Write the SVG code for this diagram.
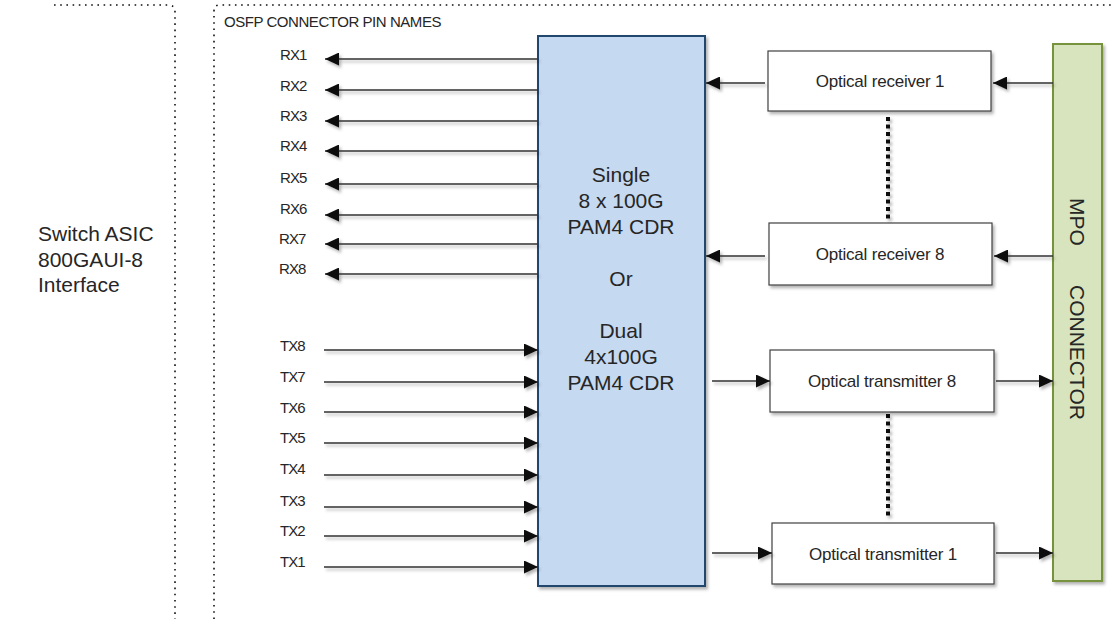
<svg xmlns="http://www.w3.org/2000/svg" width="1115" height="619" viewBox="0 0 1115 619">
<defs>
  <filter id="sh" x="-20%" y="-20%" width="140%" height="160%">
    <feDropShadow dx="2" dy="2.5" stdDeviation="1.5" flood-color="#000" flood-opacity="0.3"/>
  </filter>
  <marker id="ah" markerUnits="userSpaceOnUse" markerWidth="14" markerHeight="13" refX="14" refY="6.5" orient="auto">
    <path d="M0,0 L14,6.5 L0,13 z" fill="#111"/>
  </marker>
  <style>
    .frame { fill: none; stroke: #111; stroke-width: 1.6; stroke-dasharray: 1.6 4.6; }
    .dots { fill: none; stroke: #111; stroke-width: 4; stroke-dasharray: 4 3.5; }
    .wire { fill: none; stroke: #333; stroke-width: 1.3; marker-end: url(#ah); }
    .box { fill: #fff; stroke: #404040; stroke-width: 1.2; }
    .lbl { font-family: "Liberation Sans", Arial, sans-serif; fill: #262626; }
    .pin { font-size: 15px; letter-spacing: -0.9px; }
    .big { font-size: 21px; }
    .mid { font-size: 17px; letter-spacing: -0.2px; }
  </style>
</defs>

<g id="frames">
  <path class="frame" d="M54,5 H168 Q175,5 175,12 V619"/>
  <path class="frame" d="M214,619 V11 Q214,5 220,5 H1115"/>
  <text class="lbl" x="224" y="27" font-size="15" letter-spacing="-0.45">OSFP CONNECTOR PIN NAMES</text>
</g>

<g id="switch-asic">
  <text class="lbl big" x="38" y="241">Switch ASIC</text>
  <text class="lbl big" x="38" y="267">800GAUI-8</text>
  <text class="lbl big" x="38" y="292">Interface</text>
</g>

<g id="pin-labels" class="lbl pin">
  <text x="280" y="60">RX1</text>
  <text x="280" y="91">RX2</text>
  <text x="280" y="121">RX3</text>
  <text x="280" y="151">RX4</text>
  <text x="280" y="183">RX5</text>
  <text x="280" y="214">RX6</text>
  <text x="279" y="244">RX7</text>
  <text x="279" y="274">RX8</text>
  <text x="280" y="351">TX8</text>
  <text x="280" y="382">TX7</text>
  <text x="280" y="413">TX6</text>
  <text x="280" y="443">TX5</text>
  <text x="280" y="474">TX4</text>
  <text x="280" y="506">TX3</text>
  <text x="280" y="536">TX2</text>
  <text x="280" y="567">TX1</text>
</g>

<g id="cdr">
  <rect x="538" y="36" width="167" height="550" fill="#c5d9f0" stroke="#23476e" stroke-width="2" filter="url(#sh)"/>
  <g class="lbl big" text-anchor="middle">
    <text x="621" y="182">Single</text>
    <text x="621" y="208">8 x 100G</text>
    <text x="621" y="234">PAM4 CDR</text>
    <text x="621" y="286">Or</text>
    <text x="621" y="338">Dual</text>
    <text x="621" y="364">4x100G</text>
    <text x="621" y="390">PAM4 CDR</text>
  </g>
</g>

<g id="rx1">
  <rect class="box" x="768" y="51" width="223" height="60" filter="url(#sh)"/>
  <text class="lbl mid" x="880" y="87" text-anchor="middle">Optical receiver 1</text>
</g>
<g id="rx8">
  <rect class="box" x="769" y="223" width="223" height="62" filter="url(#sh)"/>
  <text class="lbl mid" x="880" y="260" text-anchor="middle">Optical receiver 8</text>
</g>
<g id="tx8">
  <rect class="box" x="770" y="350" width="224" height="62" filter="url(#sh)"/>
  <text class="lbl mid" x="882" y="387" text-anchor="middle">Optical transmitter 8</text>
</g>
<g id="tx1">
  <rect class="box" x="772" y="523" width="222" height="61" filter="url(#sh)"/>
  <text class="lbl mid" x="883" y="560" text-anchor="middle">Optical transmitter 1</text>
</g>

<g id="mpo">
  <rect x="1053" y="44" width="49" height="537" fill="#d7e4bd" stroke="#76923c" stroke-width="2" filter="url(#sh)"/>
  <g class="lbl big" transform="translate(1070,0) rotate(90)">
    <text x="198" y="0">MPO</text>
    <text x="285" y="0">CONNECTOR</text>
  </g>
</g>

<g id="connectors" filter="url(#sh)">
  <path class="wire" d="M538,59 H325"/>
  <path class="wire" d="M538,90 H325"/>
  <path class="wire" d="M538,121 H325"/>
  <path class="wire" d="M538,151 H325"/>
  <path class="wire" d="M538,184 H325"/>
  <path class="wire" d="M538,215 H325"/>
  <path class="wire" d="M538,244 H325"/>
  <path class="wire" d="M538,274 H325"/>
  <path class="wire" d="M324,350 H538"/>
  <path class="wire" d="M324,382 H538"/>
  <path class="wire" d="M324,412 H538"/>
  <path class="wire" d="M324,443 H538"/>
  <path class="wire" d="M324,475 H538"/>
  <path class="wire" d="M324,507 H538"/>
  <path class="wire" d="M324,536 H538"/>
  <path class="wire" d="M324,567 H538"/>
  <path class="wire" d="M765,83 H706"/>
  <path class="wire" d="M765,256 H706"/>
  <path class="wire" d="M1053,83 H993"/>
  <path class="wire" d="M1053,256 H994"/>
  <path class="wire" d="M712,381 H770"/>
  <path class="wire" d="M712,553 H772"/>
  <path class="wire" d="M996,381 H1053"/>
  <path class="wire" d="M996,553 H1053"/>
  <path class="dots" d="M888,117 V222"/>
  <path class="dots" d="M888,414 V517"/>
</g>
</svg>
